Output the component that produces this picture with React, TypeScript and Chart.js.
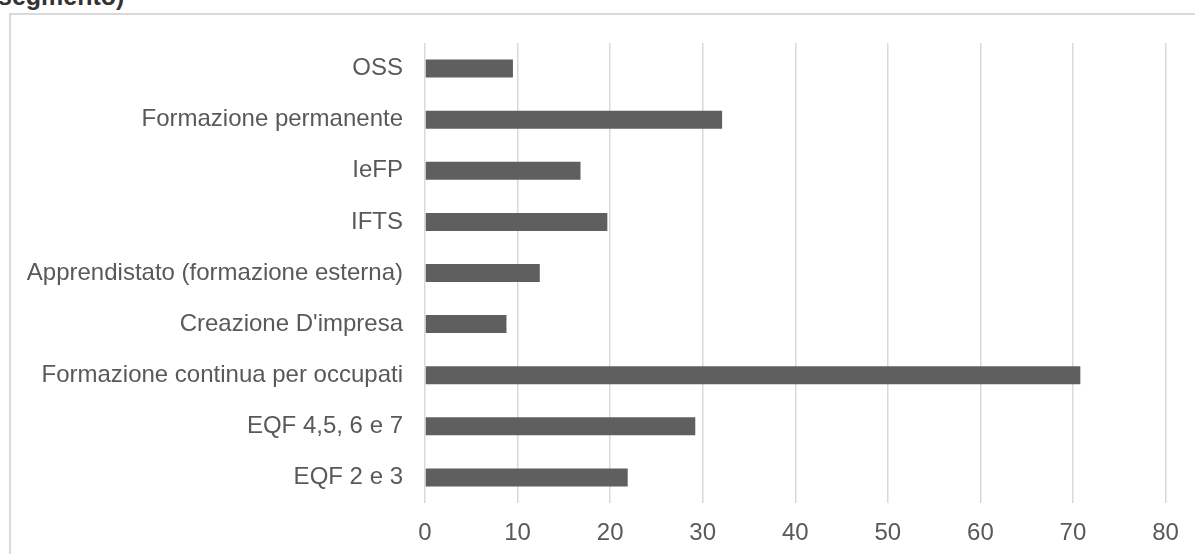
import React, { useEffect, useRef } from "react";
import { Chart, registerables } from "chart.js";

Chart.register(...registerables);

// Training segments, listed top to bottom
const categories: string[] = [
  "OSS",
  "Formazione permanente",
  "IeFP",
  "IFTS",
  "Apprendistato (formazione esterna)",
  "Creazione D'impresa",
  "Formazione continua per occupati",
  "EQF 4,5, 6 e 7",
  "EQF 2 e 3",
];

// Value for each segment
const values: number[] = [9.5, 32.1, 16.8, 19.7, 12.4, 8.8, 70.8, 29.2, 21.9];

// Horizontal axis range and step
const xMin = 0;
const xMax = 80;
const xStep = 10;

const FONT = "'Liberation Sans', Arial, sans-serif";
const W = 1195;
const H = 554;

export default function App() {
  const canvasRef = useRef<HTMLCanvasElement | null>(null);

  useEffect(() => {
    document.body.style.margin = "0";
    const canvas = canvasRef.current;
    if (!canvas) return;
    const chart = new Chart(canvas, {
      type: "bar",
      data: {
        labels: categories,
        datasets: [
          {
            data: values,
            backgroundColor: "#5f5f5f",
            borderWidth: 0,
            barPercentage: 0.352,
            categoryPercentage: 1,
          },
        ],
      },
      options: {
        indexAxis: "y",
        animation: false,
        responsive: false,
        maintainAspectRatio: false,
        devicePixelRatio: 1,
        layout: { padding: { top: 43, right: 29.5, bottom: 0, left: 0 } },
        plugins: {
          legend: { display: false },
          tooltip: { enabled: false },
          title: { display: false },
        },
        scales: {
          x: {
            type: "linear",
            min: xMin,
            max: xMax,
            border: { display: false },
            grid: {
              color: "#d9d9d9",
              lineWidth: 1.5,
              drawTicks: false,
            },
            ticks: {
              stepSize: xStep,
              color: "#595959",
              padding: 16,
              font: { family: FONT, size: 24 },
            },
            afterFit: (scale: any) => {
              scale.height = 51;
            },
          },
          y: {
            type: "category",
            border: { display: false },
            grid: { display: false, drawTicks: false },
            ticks: {
              color: "#595959",
              padding: 22,
              font: { family: FONT, size: 24 },
            },
            afterFit: (scale: any) => {
              scale.width = 425;
            },
          },
        },
      },
    });
    return () => chart.destroy();
  }, []);

  return (
    <div
      style={{
        position: "fixed",
        left: 0,
        top: 0,
        width: W,
        height: H,
        overflow: "hidden",
        background: "#ffffff",
      }}
    >
      <div
        style={{
          position: "absolute",
          left: -2,
          top: -16,
          fontFamily: FONT,
          fontWeight: "bold",
          fontSize: 25,
          lineHeight: "24px",
          color: "#333333",
          whiteSpace: "nowrap",
        }}
      >
        segmento)
      </div>
      <div
        style={{
          position: "absolute",
          left: 9,
          top: 13,
          width: 1300,
          height: 700,
          border: "2px solid #d9d9d9",
          boxSizing: "border-box",
        }}
      />
      <canvas
        ref={canvasRef}
        width={W}
        height={H}
        style={{ position: "absolute", left: 0, top: 0, width: W, height: H }}
      />
    </div>
  );
}
